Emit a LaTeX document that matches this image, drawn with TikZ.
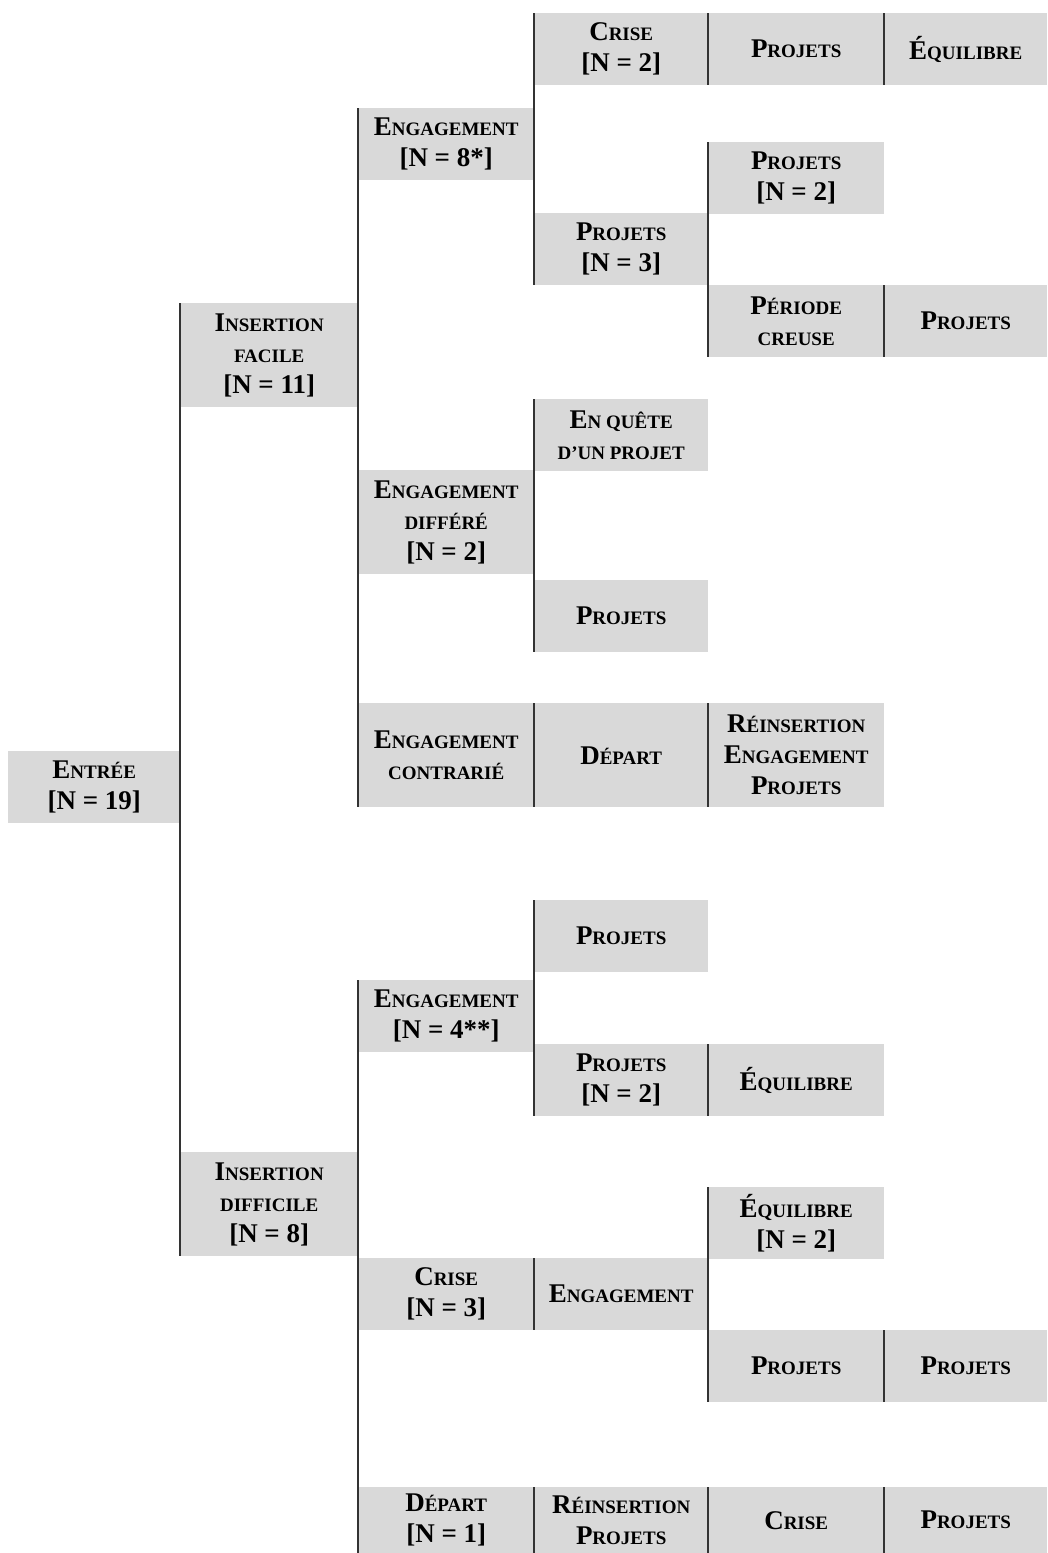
\documentclass[tikz,border=0pt]{standalone}
\usepackage{fontspec}
\setmainfont{Liberation Serif}
\definecolor{boxgray}{HTML}{D9D9D9}
\definecolor{linegray}{HTML}{333333}
\newcommand\sk[1]{{\fontsize{19}{19}\selectfont #1}}
\newcommand\nn[1]{{[N = #1]}}
\begin{document}
\begin{tikzpicture}[x=1pt,y=-1pt,
  bx/.style={rectangle, fill=boxgray, inner sep=0pt, anchor=north west, align=center,
    font=\fontsize{27}{31}\selectfont\bfseries},
  cA/.style={minimum width=172pt}, cB/.style={minimum width=178pt},
  cC/.style={minimum width=176pt}, cD/.style={minimum width=174pt},
  cE/.style={minimum width=176pt}, cF/.style={minimum width=163pt},
  hb/.style={minimum height=72pt}, ht/.style={minimum height=104pt},
  hs/.style={minimum height=66pt},
  vline/.style={draw=linegray, line width=1.3pt}]
\useasboundingbox (0,0) rectangle (1047,1553);
% column 0
\node[bx,cA,hb] (entree) at (8,751) {E\sk{NTRÉE}\\\nn{19}};
% column 1
\node[bx,cB,ht] (insf) at (180,303) {I\sk{NSERTION}\\\sk{FACILE}\\\nn{11}};
\node[bx,cB,ht] (insd) at (180,1152) {I\sk{NSERTION}\\\sk{DIFFICILE}\\\nn{8}};
% column 2
\node[bx,cC,hb] (eng8) at (358,108) {E\sk{NGAGEMENT}\\\nn{8*}};
\node[bx,cC,ht] (engdiff) at (358,470) {E\sk{NGAGEMENT}\\\sk{DIFFÉRÉ}\\\nn{2}};
\node[bx,cC,ht] (engcontr) at (358,703) {E\sk{NGAGEMENT}\\\sk{CONTRARIÉ}};
\node[bx,cC,hb] (eng4) at (358,980) {E\sk{NGAGEMENT}\\\nn{4**}};
\node[bx,cC,hb] (crise3) at (358,1258) {C\sk{RISE}\\\nn{3}};
\node[bx,cC,hs] (depart1) at (358,1487) {D\sk{ÉPART}\\\nn{1}};
% column 3
\node[bx,cD,hb] (crise2) at (534,13) {C\sk{RISE}\\\nn{2}};
\node[bx,cD,hb] (proj3) at (534,213) {P\sk{ROJETS}\\\nn{3}};
\node[bx,cD,hb] (enquete) at (534,399) {E\sk{N QUÊTE}\\\sk{D’UN PROJET}};
\node[bx,cD,hb] (projA) at (534,580) {P\sk{ROJETS}};
\node[bx,cD,ht] (depart) at (534,703) {D\sk{ÉPART}};
\node[bx,cD,hb] (projB) at (534,900) {P\sk{ROJETS}};
\node[bx,cD,hb] (proj2b) at (534,1044) {P\sk{ROJETS}\\\nn{2}};
\node[bx,cD,hb] (engC) at (534,1258) {E\sk{NGAGEMENT}};
\node[bx,cD,hs] (reinsP) at (534,1487) {R\sk{ÉINSERTION}\\P\sk{ROJETS}};
% column 4
\node[bx,cE,hb] (projC) at (708,13) {P\sk{ROJETS}};
\node[bx,cE,hb] (proj2a) at (708,142) {P\sk{ROJETS}\\\nn{2}};
\node[bx,cE,hb] (periode) at (708,285) {P\sk{ÉRIODE}\\\sk{CREUSE}};
\node[bx,cE,ht] (reinsEP) at (708,703) {R\sk{ÉINSERTION}\\E\sk{NGAGEMENT}\\P\sk{ROJETS}};
\node[bx,cE,hb] (equil) at (708,1044) {É\sk{QUILIBRE}};
\node[bx,cE,hb] (equil2) at (708,1187) {É\sk{QUILIBRE}\\\nn{2}};
\node[bx,cE,hb] (projD) at (708,1330) {P\sk{ROJETS}};
\node[bx,cE,hs] (criseE) at (708,1487) {C\sk{RISE}};
% column 5
\node[bx,cF,hb] (equilA) at (884,13) {É\sk{QUILIBRE}};
\node[bx,cF,hb] (projE) at (884,285) {P\sk{ROJETS}};
\node[bx,cF,hb] (projF) at (884,1330) {P\sk{ROJETS}};
\node[bx,cF,hs] (projG) at (884,1487) {P\sk{ROJETS}};
% connectors
\draw[vline] (insf.north west) -- (insd.south west);
\draw[vline] (eng8.north west) -- (engcontr.south west);
\draw[vline] (eng4.north west) -- (depart1.south west);
\draw[vline] (crise2.north west) -- (proj3.south west);
\draw[vline] (enquete.north west) -- (projA.south west);
\draw[vline] (depart.north west) -- (depart.south west);
\draw[vline] (projB.north west) -- (proj2b.south west);
\draw[vline] (engC.north west) -- (engC.south west);
\draw[vline] (reinsP.north west) -- (reinsP.south west);
\draw[vline] (projC.north west) -- (projC.south west);
\draw[vline] (proj2a.north west) -- (periode.south west);
\draw[vline] (reinsEP.north west) -- (reinsEP.south west);
\draw[vline] (equil.north west) -- (equil.south west);
\draw[vline] (equil2.north west) -- (projD.south west);
\draw[vline] (criseE.north west) -- (criseE.south west);
\draw[vline] (equilA.north west) -- (equilA.south west);
\draw[vline] (projE.north west) -- (projE.south west);
\draw[vline] (projF.north west) -- (projF.south west);
\draw[vline] (projG.north west) -- (projG.south west);
\end{tikzpicture}
\end{document}
